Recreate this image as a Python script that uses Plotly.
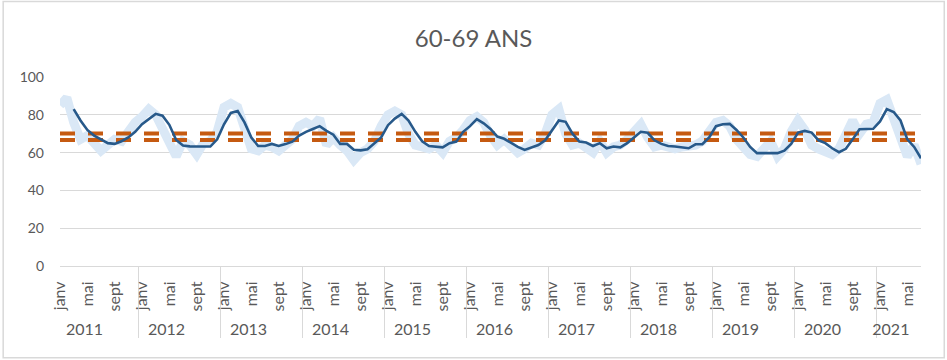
import plotly.graph_objects as go

# ---- data ----
YEARS = ["2011", "2012", "2013", "2014", "2015", "2016", "2017", "2018", "2019", "2020", "2021"]
MONTHS = ["janv", "févr", "mars", "avr", "mai", "juin", "juil", "août", "sept", "oct", "nov", "déc"]
MONTHS_2021 = 7

# monthly values (light line)
MENSUEL = [
    85, 89, 76, 67, 69, 65, 61, 64, 67, 66, 72, 76,   # 2011
    79, 83, 80, 73, 66, 58, 66, 64, 59, 65, 66, 71,   # 2012
    84, 86, 84, 72, 62, 61, 64, 63, 61, 64, 67, 74,   # 2013
    76, 74, 78, 64, 68, 64, 61, 56, 60, 62, 66, 74,   # 2014
    80, 82, 80, 70, 64, 63, 62, 64, 60, 66, 68, 72,   # 2015
    77, 79, 76, 69, 64, 67, 63, 60, 62, 65, 64, 70,   # 2016
    80, 83, 70, 64, 65, 63, 60, 66, 60, 63, 64, 67,   # 2017
    72, 75, 68, 63, 64, 63, 62, 63, 63, 64, 66, 72,   # 2018
    76, 77, 74, 67, 62, 59, 58, 62, 66, 58, 62, 71,   # 2019
    77, 72, 64, 62, 61, 59, 62, 70, 77, 70, 75, 76,   # 2020
    86, 88, 77, 68, 58, 64, 54,                       # 2021
]

# smoothed values (dark line), starts in March 2011
LISSE = [
    None, None, 83, 77, 72, 69, 67, 65, 64.6, 66, 68, 71,            # 2011
    75, 78, 80.5, 79.5, 74.7, 66.7, 63.7, 63.3, 63.2, 63.5, 63.2, 67,  # 2012
    75, 81, 82, 76, 68, 63.5, 63.5, 64.6, 63.5, 64.5, 65.8, 69,      # 2013
    71, 72.5, 74, 71.5, 69.5, 64.6, 64.6, 61.5, 61.2, 61.8, 65, 68,  # 2014
    74.5, 78, 80.5, 77, 71, 66, 63.5, 63, 62.8, 65, 65.8, 71,        # 2015
    74, 77.7, 75.5, 72.5, 68.5, 67.3, 65, 63, 61.4, 62.5, 64, 66.5,  # 2016
    72, 77, 76.3, 70, 65.8, 65.3, 63.5, 65, 62.3, 63.2, 62.8, 65,    # 2017
    68, 71, 70.5, 66.5, 64.6, 63.5, 63.2, 62.8, 62.3, 64.4, 64.4, 68,  # 2018
    74, 75, 75.2, 72, 68, 63, 59.7, 59.7, 59.7, 59.7, 61, 64.6,      # 2019
    70.6, 71.5, 70.6, 66.5, 65, 62.3, 60.2, 62, 67, 72.4, 72.5, 72.6,  # 2020
    76.5, 83, 81.5, 77, 67, 63, 57,                                  # 2021
]

SEUIL_HAUT = 70.1
SEUIL_BAS = 66.7

# ---- categories (two-level axis: year / month) ----
year_lvl, month_lvl = [], []
for y in YEARS:
    n = MONTHS_2021 if y == "2021" else 12
    for k in range(n):
        year_lvl.append(y)
        month_lvl.append(MONTHS[k])
X = [year_lvl, month_lvl]
n_pts = len(year_lvl)

fig = go.Figure()
fig.add_trace(go.Scatter(x=X, y=MENSUEL, mode="lines",
                         line=dict(color="#DAE8F6", width=9), name="mensuel"))
fig.add_trace(go.Scatter(x=X, y=[SEUIL_HAUT] * n_pts, mode="lines",
                         line=dict(color="#C55A11", width=4, dash="15px,13px"), name="haut"))
fig.add_trace(go.Scatter(x=X, y=[SEUIL_BAS] * n_pts, mode="lines",
                         line=dict(color="#C55A11", width=4, dash="15px,13px"), name="bas"))
fig.add_trace(go.Scatter(x=X, y=LISSE, mode="lines", connectgaps=False,
                         line=dict(color="#27598A", width=2.6), name="lissé"))

fig.update_layout(
    width=947, height=360,
    margin=dict(l=60, r=26, t=77, b=94),
    paper_bgcolor="white", plot_bgcolor="white",
    showlegend=False,
    font=dict(family="Lato, 'Open Sans', sans-serif", color="#595959", size=14),
    title=dict(text="60-69 ANS", x=0.5, xanchor="center", y=0.894, yanchor="middle",
               font=dict(size=24, color="#595959")),
    shapes=[dict(type="rect", xref="paper", yref="paper",
                 x0=-0.066, x1=1.027, y0=-0.485, y1=1.4,
                 line=dict(color="#D9D9D9", width=1.5), layer="below")],
)
fig.update_yaxes(range=[0, 100], dtick=20, showgrid=True, gridcolor="#D9D9D9", gridwidth=1,
                 zeroline=False, showline=False, ticks="", ticklen=0,
                 ticklabelstandoff=15,
                 tickfont=dict(size=14, color="#595959"))
fig.update_xaxes(type="multicategory", showgrid=False, showline=True, linecolor="#D9D9D9",
                 linewidth=1, tickangle=-90, ticks="", showdividers=True,
                 tickmode="linear", tick0=0, dtick=4, ticklabelstandoff=8,
                 dividercolor="#D9D9D9", dividerwidth=1,
                 tickfont=dict(size=16, color="#595959"))

fig.write_html("out.html", config={"displayModeBar": False},
               post_script="document.body.style.margin='0';")
